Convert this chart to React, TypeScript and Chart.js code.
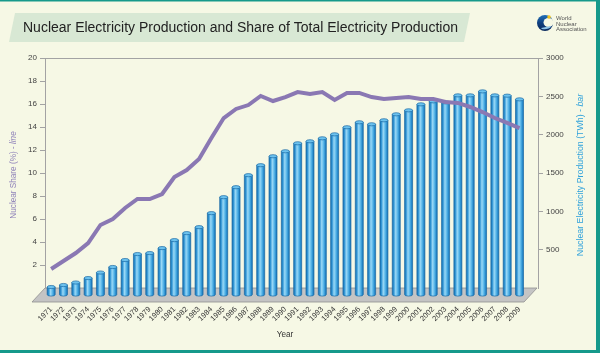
import React, { useEffect, useRef } from 'react';
import { Chart, registerables } from 'chart.js';

Chart.register(...registerables);

const years = [
  1971, 1972, 1973, 1974, 1975, 1976, 1977, 1978, 1979, 1980,
  1981, 1982, 1983, 1984, 1985, 1986, 1987, 1988, 1989, 1990,
  1991, 1992, 1993, 1994, 1995, 1996, 1997, 1998, 1999, 2000,
  2001, 2002, 2003, 2004, 2005, 2006, 2007, 2008, 2009,
];

const productionTWh = [
  104, 130, 163, 221, 293, 365, 456, 534, 547, 612,
  716, 807, 885, 1068, 1276, 1406, 1563, 1693, 1810, 1875,
  1979, 2005, 2044, 2096, 2188, 2253, 2227, 2279, 2357, 2409,
  2487, 2526, 2513, 2604, 2604, 2656, 2604, 2600, 2552,
];

const nuclearSharePct = [
  1.65, 2.35, 3.04, 3.91, 5.48, 6.0, 6.96, 7.74, 7.74, 8.17,
  9.65, 10.26, 11.22, 13.04, 14.78, 15.57, 15.91, 16.7, 16.26, 16.6,
  17.04, 16.87, 17.04, 16.35, 16.96, 16.96, 16.6, 16.43, 16.52, 16.6,
  16.43, 16.43, 16.17, 16.09, 15.74, 15.3, 14.78, 14.35, 13.91,
];

const shareAxis = { min: 0, max: 20, step: 2 };
const twhAxis = { min: 0, max: 3000, step: 500 };

const FONT = '"Liberation Sans", Arial, sans-serif';
const BAR_DROP = 7;

const decorPlugin = {
  id: 'decor',
  beforeDraw(chart: any) {
    const { ctx, width, height, chartArea } = chart;
    ctx.save();
    ctx.fillStyle = '#f6f8e5';
    ctx.fillRect(0, 0, width, height);
    // borders
    ctx.fillStyle = '#16998b';
    ctx.fillRect(0, 0, width, 1.5);
    ctx.fillRect(width - 4, 0, 4, height);
    ctx.fillRect(0, height - 3, width, 3);
    // title box
    ctx.fillStyle = '#d8e8d4';
    ctx.beginPath();
    ctx.moveTo(15, 13);
    ctx.lineTo(470, 13);
    ctx.lineTo(464, 42);
    ctx.lineTo(9, 42);
    ctx.closePath();
    ctx.fill();
    ctx.fillStyle = '#222';
    ctx.font = `14px ${FONT}`;
    ctx.textBaseline = 'middle';
    ctx.textAlign = 'left';
    ctx.fillText('Nuclear Electricity Production and Share of Total Electricity Production', 23, 28.5);
    // logo
    const cx = 545, cy = 23;
    const g = ctx.createLinearGradient(cx, cy - 8, cx, cy + 8);
    g.addColorStop(0, '#1f6fb8');
    g.addColorStop(0.5, '#0f3f7f');
    g.addColorStop(1, '#0a2a5c');
    ctx.fillStyle = g;
    ctx.beginPath();
    ctx.arc(cx, cy, 8, 0, Math.PI * 2);
    ctx.fill();
    ctx.fillStyle = '#f6f8e5';
    ctx.beginPath();
    ctx.ellipse(cx + 3.5, cy - 0.5, 5, 4.5, 0, 0, Math.PI * 2);
    ctx.fill();
    ctx.fillStyle = '#8fc4e8';
    ctx.beginPath();
    ctx.ellipse(cx + 1, cy + 4, 5, 2, -0.2, 0, Math.PI);
    ctx.fill();
    ctx.fillStyle = '#f2c21b';
    ctx.beginPath();
    ctx.arc(cx + 4, cy - 6, 1.8, 0, Math.PI * 2);
    ctx.fill();
    ctx.fillStyle = '#555';
    ctx.font = `6px ${FONT}`;
    ctx.fillText('World', 556, 18.5);
    ctx.fillText('Nuclear', 556, 24);
    ctx.fillText('Association', 556, 29.5);

    // axis titles
    const midY = (chartArea.top + chartArea.bottom) / 2 + 2;
    const drawRot = (x: number, parts: { t: string; italic: boolean }[], color: string, size: number) => {
      ctx.save();
      ctx.translate(x, midY);
      ctx.rotate(-Math.PI / 2);
      ctx.fillStyle = color;
      ctx.textBaseline = 'middle';
      ctx.textAlign = 'left';
      let total = 0;
      const widths = parts.map((p) => {
        ctx.font = `${p.italic ? 'italic ' : ''}${size}px ${FONT}`;
        const w = ctx.measureText(p.t).width;
        total += w;
        return w;
      });
      let px = -total / 2;
      parts.forEach((p, i) => {
        ctx.font = `${p.italic ? 'italic ' : ''}${size}px ${FONT}`;
        ctx.fillText(p.t, px, 0);
        px += widths[i];
      });
      ctx.restore();
    };
    drawRot(13.5, [{ t: 'Nuclear Share (%) - ', italic: false }, { t: 'line', italic: true }], '#8f82b9', 8.2);
    drawRot(581, [{ t: 'Nuclear Electricity Production (TWh) - ', italic: false }, { t: 'bar', italic: true }], '#2ea1db', 8.8);

    ctx.fillStyle = '#333';
    ctx.font = `8.2px ${FONT}`;
    ctx.textAlign = 'center';
    ctx.textBaseline = 'middle';
    ctx.fillText('Year', 285, 335);
    ctx.restore();
  },
  beforeDatasetsDraw(chart: any) {
    const { ctx, chartArea } = chart;
    const { left, right, bottom } = chartArea;
    ctx.save();
    ctx.fillStyle = '#c4c4c4';
    ctx.strokeStyle = '#8f8f8f';
    ctx.lineWidth = 0.8;
    ctx.beginPath();
    ctx.moveTo(left, bottom);
    ctx.lineTo(right - 1, bottom);
    ctx.lineTo(right - 14, bottom + 14);
    ctx.lineTo(left - 13, bottom + 14);
    ctx.closePath();
    ctx.fill();
    ctx.stroke();
    ctx.restore();
  },
  beforeDatasetDraw(chart: any, args: any) {
    const meta = args.meta;
    if (meta.type !== 'bar') return;
    const ctx = chart.ctx;
    ctx.save();
    meta.data.forEach((el: any) => {
      const { x, y, base, width } = el.getProps(['x', 'y', 'base', 'width'], true);
      const w = width;
      const x0 = x - w / 2;
      const x1 = x + w / 2;
      const top = y + BAR_DROP;
      const bot = base + BAR_DROP;
      const ry = 1.6;
      const g = ctx.createLinearGradient(x0, 0, x1, 0);
      g.addColorStop(0, '#166fae');
      g.addColorStop(0.18, '#2e93d3');
      g.addColorStop(0.42, '#9ad8f6');
      g.addColorStop(0.62, '#63bdec');
      g.addColorStop(0.85, '#2a8fd0');
      g.addColorStop(1, '#166fae');
      ctx.fillStyle = g;
      ctx.beginPath();
      ctx.moveTo(x0, top);
      ctx.lineTo(x0, bot);
      ctx.ellipse(x, bot, w / 2, ry, 0, Math.PI, 0, true);
      ctx.lineTo(x1, top);
      ctx.closePath();
      ctx.fill();
      ctx.strokeStyle = '#1a6aa6';
      ctx.lineWidth = 0.7;
      ctx.stroke();
      ctx.fillStyle = '#6cc2ee';
      ctx.beginPath();
      ctx.ellipse(x, top, w / 2, ry, 0, 0, Math.PI * 2);
      ctx.fill();
      ctx.strokeStyle = '#1a6aa6';
      ctx.stroke();
    });
    ctx.restore();
    return false;
  },
};

export default function App() {
  const canvasRef = useRef<HTMLCanvasElement | null>(null);

  useEffect(() => {
    const canvas = canvasRef.current;
    if (!canvas) return;
    const tickFont = { family: FONT, size: 8 };
    const chart = new Chart(canvas, {
      type: 'bar',
      data: {
        datasets: [
          {
            type: 'line',
            label: 'Nuclear Share (%)',
            data: years.map((yr, i) => ({ x: yr, y: nuclearSharePct[i] })),
            yAxisID: 'y',
            xAxisID: 'x',
            borderColor: '#8a78b3',
            borderWidth: 4,
            pointRadius: 0,
            tension: 0,
            fill: false,
            order: 0,
            clip: false,
          } as any,
          {
            type: 'bar',
            label: 'Nuclear Electricity Production (TWh)',
            data: years.map((yr, i) => ({ x: yr, y: productionTWh[i] })),
            yAxisID: 'y1',
            xAxisID: 'x',
            backgroundColor: '#3fa6e0',
            barThickness: 8,
            order: 1,
            clip: false,
          } as any,
        ],
      },
      options: {
        responsive: false,
        animation: false,
        devicePixelRatio: 1,
        layout: { padding: { top: 58, left: 0, right: 0, bottom: 0 } },
        plugins: {
          legend: { display: false },
          tooltip: { enabled: false },
          title: { display: false },
        },
        scales: {
          x: {
            type: 'linear',
            min: years[0] - 0.5,
            max: years[years.length - 1] + 1.5,
            offset: false,
            afterBuildTicks: (s: any) => {
              s.ticks = years.map((v) => ({ value: v }));
            },
            afterFit: (s: any) => {
              s.height = 65;
            },
            ticks: {
              autoSkip: false,
              minRotation: 45,
              maxRotation: 45,
              padding: 17,
              color: '#333',
              font: { family: FONT, size: 7.5 },
              callback: (v: any) => String(v),
            },
            grid: { display: false, drawTicks: false },
            border: { display: false },
          },
          y: {
            type: 'linear',
            position: 'left',
            min: shareAxis.min,
            max: shareAxis.max,
            afterFit: (s: any) => {
              s.width = 45;
            },
            ticks: {
              stepSize: shareAxis.step,
              padding: 3,
              color: '#444',
              font: tickFont,
              callback: (v: any) => (v === 0 ? '' : String(v)),
            },
            grid: {
              drawOnChartArea: true,
              color: (c: any) => (c.tick && c.tick.value === shareAxis.max ? '#a3a3a3' : 'rgba(0,0,0,0)'),
              tickColor: (c: any) => (c.tick && c.tick.value === 0 ? 'rgba(0,0,0,0)' : '#a3a3a3'),
              tickLength: 5,
              lineWidth: 1,
            },
            border: { color: '#a3a3a3', width: 1 },
          },
          y1: {
            type: 'linear',
            position: 'right',
            min: twhAxis.min,
            max: twhAxis.max,
            afterFit: (s: any) => {
              s.width = 62;
            },
            ticks: {
              stepSize: twhAxis.step,
              padding: 3,
              color: '#444',
              font: tickFont,
              callback: (v: any) => (v === 0 ? '' : String(v)),
            },
            grid: {
              drawOnChartArea: false,
              tickColor: (c: any) => (c.tick && c.tick.value === 0 ? 'rgba(0,0,0,0)' : '#a3a3a3'),
              tickLength: 5,
            },
            border: { color: '#a3a3a3', width: 1 },
          },
        },
      },
      plugins: [decorPlugin],
    });
    return () => chart.destroy();
  }, []);

  return (
    <div style={{ position: 'absolute', left: 0, top: 0, width: 600, height: 353 }}>
      <canvas ref={canvasRef} width={600} height={353} style={{ display: 'block', width: 600, height: 353 }} />
    </div>
  );
}
